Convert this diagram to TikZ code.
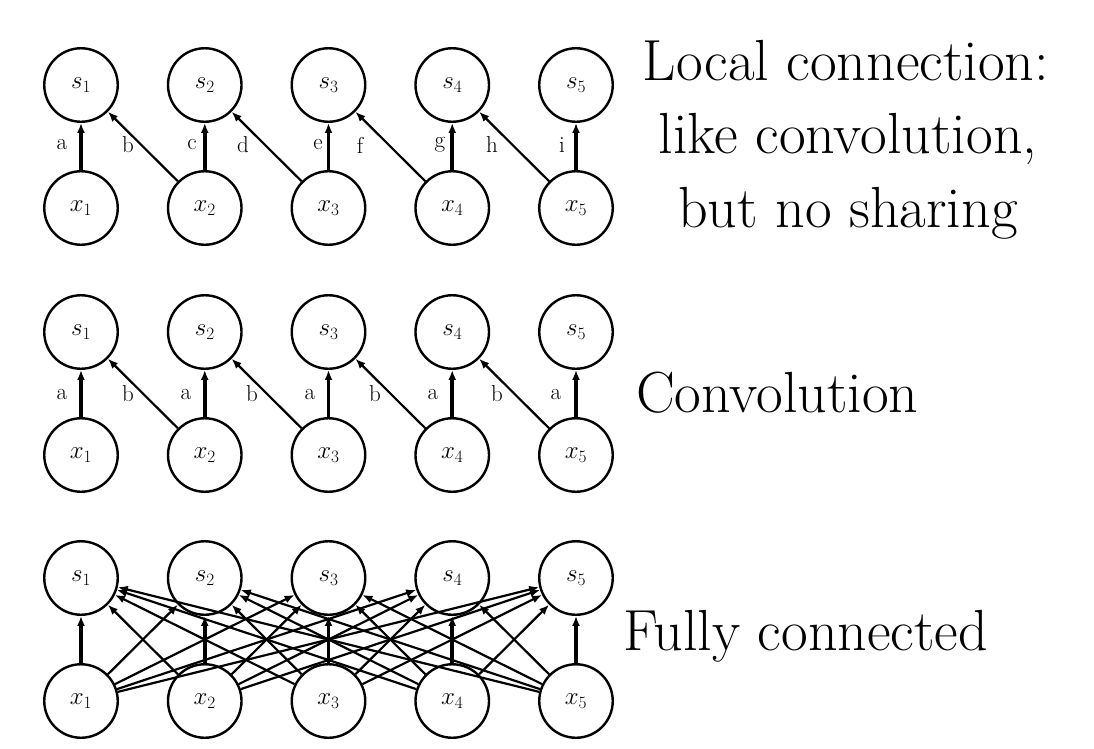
\documentclass[tikz,border=0pt]{standalone}
\usetikzlibrary{arrows.meta}
\begin{document}
\begin{tikzpicture}[x=1pt,y=-1pt,
  unit/.style={circle,draw,line width=2.4pt,minimum size=73.5pt,inner sep=0pt,fill=white,font=\fontsize{23}{27}\selectfont},
  thickarr/.style={line width=3.6pt,-{Latex[length=10pt,width=8pt]}},
  thinarr/.style={line width=2.2pt,-{Latex[length=10pt,width=8pt]}},
  lbl/.style={font=\fontsize{23}{27}\selectfont,inner sep=0pt},
  big/.style={font=\fontsize{58}{74}\selectfont,inner sep=0pt}]
\useasboundingbox (0,0) rectangle (1094,748);
\foreach \p/\ys/\yx in {A/85/208,B/332/455,C/578/701} {
  \foreach \i in {1,...,5} {
    \pgfmathsetmacro\cx{81+123.75*(\i-1)}
    \node[unit] (\p s\i) at (\cx,\ys) {$s_{\i}$};
    \node[unit] (\p x\i) at (\cx,\yx) {$x_{\i}$};
  }
}
% Local connection
\foreach \i in {1,...,5} \draw[thickarr] (Ax\i) -- (As\i);
\foreach \i [evaluate=\i as \j using int(\i-1)] in {2,...,5} \draw[thinarr] (Ax\i) -- (As\j);
\node[lbl] (la) at (62,145) {a};
\node[lbl] (lb) at (128,145) {b};
\node[lbl] (lc) at (192,145) {c};
\node[lbl] (ld) at (243,145) {d};
\node[lbl] (le) at (318,145) {e};
\node[lbl] (lf) at (360,145) {f};
\node[lbl] (lg) at (440,145) {g};
\node[lbl] (lh) at (492,145) {h};
\node[lbl] (li) at (562,145) {i};
% Convolution
\foreach \i in {1,...,5} \draw[thickarr] (Bx\i) -- (Bs\i);
\foreach \i [evaluate=\i as \j using int(\i-1)] in {2,...,5} \draw[thinarr] (Bx\i) -- (Bs\j);
\node[lbl] (ma1) at (62,394) {a};
\node[lbl] (mb1) at (128,394) {b};
\node[lbl] (ma2) at (186,394) {a};
\node[lbl] (mb2) at (252,394) {b};
\node[lbl] (ma3) at (310,394) {a};
\node[lbl] (mb3) at (375,394) {b};
\node[lbl] (ma4) at (433,394) {a};
\node[lbl] (mb4) at (497,394) {b};
\node[lbl] (ma5) at (556,394) {a};
% Fully connected
\foreach \i in {1,...,5} {
  \foreach \j in {1,...,5} {
    \ifnum\i=\j
      \draw[thickarr] (Cx\i) -- (Cs\j);
    \else
      \draw[thinarr] (Cx\i) -- (Cs\j);
    \fi
  }
}
% Captions
\node[big,anchor=base] (t1) at (846,80) {Local connection:};
\node[big,anchor=base] (t2) at (848,153) {like convolution,};
\node[big,anchor=base] (t3) at (848,227) {but no sharing};
\node[big,anchor=base west] (t4) at (636,412) {Convolution};
\node[big,anchor=base west] (t5) at (623,650) {Fully connected};
\end{tikzpicture}
\end{document}
